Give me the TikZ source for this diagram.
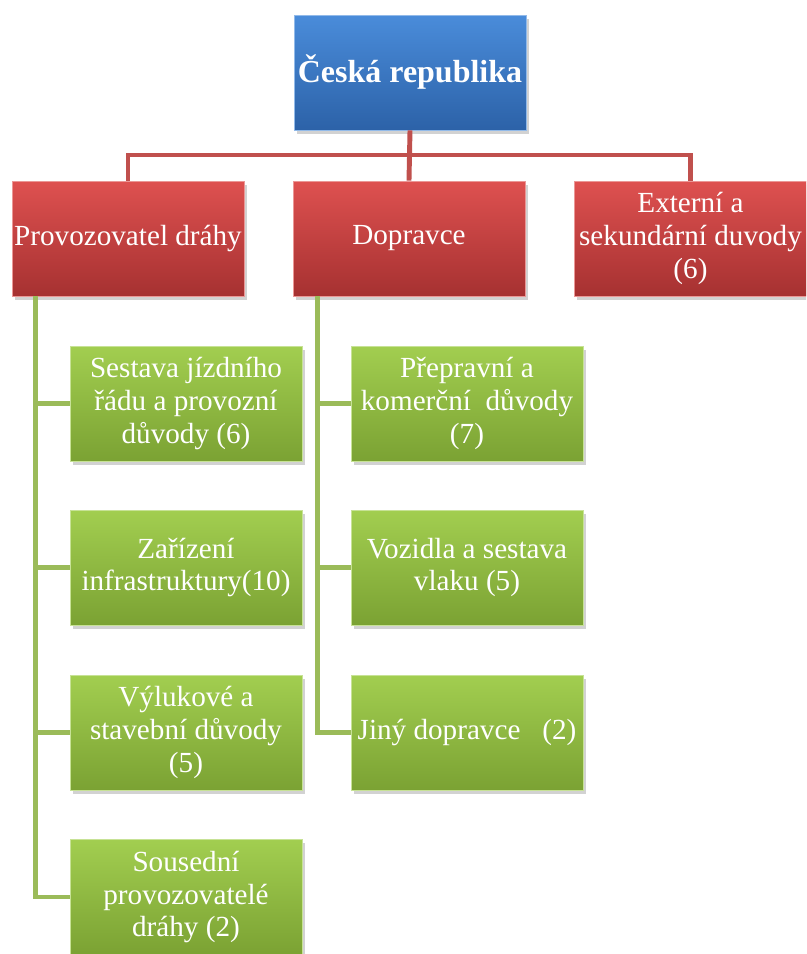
\documentclass[tikz,border=0pt]{standalone}
\usepackage{fontspec}
\setmainfont{Liberation Serif}
\usetikzlibrary{shadows,calc}

\definecolor{modraH}{HTML}{4A8CDA}
\definecolor{modraD}{HTML}{2C62A8}
\definecolor{cervenaH}{HTML}{DE5150}
\definecolor{cervenaD}{HTML}{A63131}
\definecolor{zelenaH}{HTML}{A2CE50}
\definecolor{zelenaD}{HTML}{7BA233}
\definecolor{linkaC}{HTML}{C0504D}
\definecolor{linkaZ}{HTML}{9BBB59}

\begin{document}
\begin{tikzpicture}[x=0.02cm, y=-0.02cm,
    blok/.style={rectangle, minimum width=4.64cm, minimum height=2.3cm,
      inner sep=1pt, align=center, text=white,
      font=\fontsize{16.6pt}{18.6pt}\selectfont,
      drop shadow={shadow xshift=1.5pt, shadow yshift=-2pt, opacity=0.35}},
    hlavni/.style={blok, top color=modraH, bottom color=modraD,
      draw=modraH!60!white, line width=0.5pt,
      font=\bfseries\fontsize{18.2pt}{20pt}\selectfont},
    cast/.style={blok, top color=cervenaH, bottom color=cervenaD,
      draw=cervenaH!60!white, line width=0.5pt},
    duvod/.style={blok, top color=zelenaH, bottom color=zelenaD,
      draw=zelenaH!60!white, line width=0.5pt},
    vetevC/.style={draw=linkaC, line width=2.8pt},
    vetevZ/.style={draw=linkaZ, line width=2.8pt}]

    % plocha obrazku (spodni blok je oriznuty)
    \clip (0,0) rectangle (806,954);
    \fill[white] (0,0) rectangle (806,954);

    % 1. Hlavni blok
    \node[hlavni] (cr) at (410,72.5) {Česká republika};

    % 2. Druha uroven
    \node[cast] (prov) at (128,238.5) {Provozovatel dráhy};
    \node[cast] (dop) at (409,238.5) {Dopravce};
    \node[cast] (ext) at (690.5,238.5) {Externí a\\sekundární duvody\\(6)};

    % 3. Duvody provozovatele drahy
    \node[duvod] (p1) at (186,403.5) {Sestava jízdního\\řádu a provozní\\důvody (6)};
    \node[duvod] (p2) at (186,567.5) {Zařízení\\infrastruktury(10)};
    \node[duvod] (p3) at (186,732.5) {Výlukové a\\stavební důvody\\(5)};
    \node[duvod] (p4) at (186,897) {Sousední\\provozovatelé\\dráhy (2)};

    % 4. Duvody dopravce
    \node[duvod] (d1) at (467,403.5) {Přepravní a\\komerční\ \ důvody\\(7)};
    \node[duvod] (d2) at (467,567.5) {Vozidla a sestava\\vlaku (5)};
    \node[duvod] (d3) at (467,732.5) {Jiný dopravce\ \ \ (2)};

    % 5. Cervene spojnice
    \coordinate (sbernice) at (410,155);
    \draw[vetevC] (cr.south) -- (dop.north);
    \draw[vetevC] (prov.north) |- (sbernice) -| (ext.north);

    % 6. Zelene spojnice
    \coordinate (kmenP) at ($(prov.south west)+(24,0)$);
    \coordinate (kmenD) at ($(dop.south west)+(25,0)$);
    \foreach \b in {p1,p2,p3,p4}
      \draw[vetevZ] (kmenP) |- (\b.west);
    \foreach \b in {d1,d2,d3}
      \draw[vetevZ] (kmenD) |- (\b.west);

\end{tikzpicture}
\end{document}
